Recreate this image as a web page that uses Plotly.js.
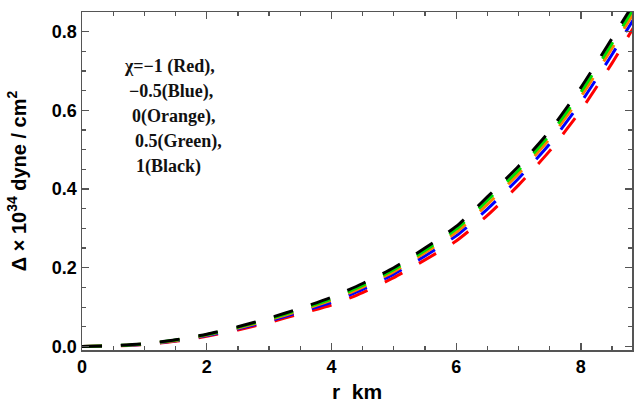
<!DOCTYPE html>
<html>
<head>
<meta charset="utf-8">
<script src="https://cdn.plot.ly/plotly-3.0.1.min.js"></script>
<style>html,body{margin:0;padding:0;background:#fff;}#chart{width:640px;height:407px;}</style>
</head>
<body>
<div id="chart"></div>
<script>
// radial coordinate r (km)
const r = [0, 0.5, 1.0, 1.5, 2.0, 2.5, 3.0, 3.5, 4.0, 4.5, 5.0, 5.5, 6.0, 6.5, 7.0, 7.5, 8.0, 8.5, 8.85];
// anisotropy Δ × 10^34 dyne/cm^2 for each χ
const chiRed    = [0, 0.001, 0.005, 0.013, 0.026, 0.042, 0.061, 0.083, 0.105, 0.137, 0.175, 0.220, 0.268, 0.333, 0.410, 0.497, 0.600, 0.720, 0.812]; // χ = -1
const chiBlue   = [0, 0.0014, 0.0057, 0.0144, 0.0278, 0.0448, 0.0649, 0.0879, 0.112, 0.145, 0.184, 0.230, 0.281, 0.349, 0.427, 0.515, 0.620, 0.742, 0.833]; // χ = -0.5
const chiOrange = [0, 0.0016, 0.0062, 0.0154, 0.029, 0.0468, 0.0676, 0.0914, 0.117, 0.151, 0.190, 0.238, 0.290, 0.361, 0.439, 0.528, 0.635, 0.758, 0.848]; // χ = 0
const chiGreen  = [0, 0.0018, 0.0066, 0.0162, 0.030, 0.0484, 0.0698, 0.0942, 0.121, 0.155, 0.195, 0.244, 0.298, 0.371, 0.448, 0.538, 0.646, 0.770, 0.860]; // χ = 0.5
const chiBlack  = [0, 0.002, 0.007, 0.017, 0.031, 0.050, 0.072, 0.097, 0.125, 0.160, 0.200, 0.250, 0.305, 0.380, 0.458, 0.548, 0.658, 0.783, 0.872]; // χ = 1

const seriesNames = ['χ=-1', 'χ=-0.5', 'χ=0', 'χ=0.5', 'χ=1'];
const seriesColors = ['#ff0000', '#0000ff', '#ff8000', '#00e000', '#000000'];
const seriesValues = [chiRed, chiBlue, chiOrange, chiGreen, chiBlack];

const legendLines = ['χ=−1 (Red),', '−0.5(Blue),', '0(Orange),', '0.5(Green),', '1(Black)'];
const legendX = [0.64, 0.72, 0.77, 0.82, 0.84];
const legendY = [0.711, 0.648, 0.584, 0.521, 0.457];

const traces = seriesValues.map((v, i) => ({
  x: r, y: v, type: 'scatter', mode: 'lines', name: seriesNames[i],
  line: {color: seriesColors[i], width: 3, dash: '20px,19px', shape: 'spline', smoothing: 0.6},
  hoverinfo: 'skip'
}));

const annotations = legendLines.map((t, i) => ({
  text: '<b>' + t + '</b>', x: legendX[i], y: legendY[i], xref: 'x', yref: 'y',
  xanchor: 'left', yanchor: 'middle', showarrow: false,
  font: {family: 'Liberation Serif, serif', size: 18, color: '#111'}
}));

const axisCommon = {
  showgrid: false, zeroline: false, showline: true, linecolor: '#555', linewidth: 1.5,
  mirror: 'ticks', ticks: 'inside', ticklen: 7, tickwidth: 1.3, tickcolor: '#555',
  tickfont: {family: 'Liberation Sans, Arial, sans-serif', size: 18, color: '#000', weight: 'bold'}
};

const layout = {
  width: 640, height: 407,
  margin: {l: 82, r: 8, t: 12, b: 57},
  paper_bgcolor: '#fff', plot_bgcolor: '#fff',
  showlegend: false,
  xaxis: Object.assign({}, axisCommon, {
    range: [0, 8.82], dtick: 2, tick0: 0,
    minor: {dtick: 0.5, ticks: 'inside', ticklen: 4, tickcolor: '#555', tickwidth: 1.2},
    title: {text: '<b>r  km</b>', font: {family: 'Liberation Sans, Arial, sans-serif', size: 21, color: '#000'}, standoff: 8}
  }),
  yaxis: Object.assign({}, axisCommon, {
    range: [-0.009, 0.85], dtick: 0.2, tick0: 0, tickformat: '.1f',
    minor: {dtick: 0.05, ticks: 'inside', ticklen: 4, tickcolor: '#555', tickwidth: 1.2},
    title: {text: '<b>Δ × 10<sup>34</sup> dyne / cm<sup>2</sup></b>', font: {family: 'Liberation Sans, Arial, sans-serif', size: 20, color: '#000'}, standoff: 20}
  }),
  annotations: annotations
};

Plotly.newPlot('chart', traces, layout, {staticPlot: true, displayModeBar: false});
</script>
</body>
</html>
